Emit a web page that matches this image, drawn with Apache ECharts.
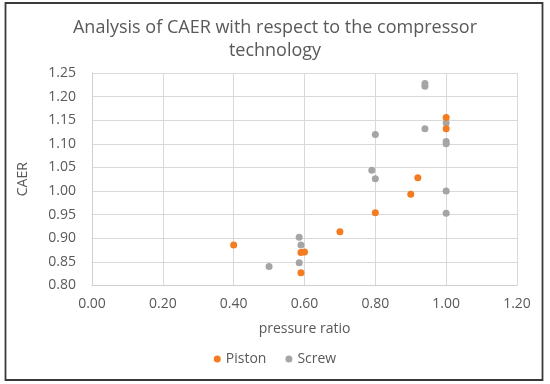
<!DOCTYPE html>
<html>
<head>
<meta charset="utf-8">
<script src="https://cdn.jsdelivr.net/npm/echarts@6/dist/echarts.min.js"></script>
<style>
html,body{margin:0;padding:0;background:#fff;}
#chart{width:550px;height:384px;}
</style>
</head>
<body>
<div id="chart"></div>
<script>
const titleText = "Analysis of CAER with respect to the compressor\ntechnology";
const xName = "pressure ratio";
const yName = "CAER";
const seriesNames = ["Piston", "Screw"];
const pistonData = [[0.40,0.886],[0.59,0.870],[0.60,0.871],[0.59,0.827],[0.70,0.914],[0.80,0.954],[0.90,0.993],[0.92,1.028],[1.00,1.156],[1.00,1.132]];
const screwData = [[0.50,0.840],[0.585,0.902],[0.59,0.886],[0.585,0.848],[0.79,1.044],[0.80,1.026],[0.80,1.120],[0.94,1.222],[0.94,1.228],[0.94,1.132],[1.00,1.144],[1.00,1.105],[1.00,1.100],[1.00,1.000],[1.00,0.953]];
const xTicks = {min:0, max:1.2, interval:0.2};
const yTicks = {min:0.8, max:1.25, interval:0.05};

const chart = echarts.init(document.getElementById('chart'));
const font = "'Open Sans', 'Noto Sans', sans-serif";
const txt = '#595959';
chart.setOption({
  animation:false,
  textStyle:{fontFamily:font},
  graphic:[{type:'rect', shape:{x:5.5,y:3,width:537,height:377}, style:{fill:'none', stroke:'#3a3a3a', lineWidth:1.8}, z:100}],
  title:{text:titleText, left:'center', top:11, textStyle:{fontFamily:font, fontSize:18, fontWeight:'normal', color:txt, lineHeight:23}},
  grid:{left:92, right:33, top:73, bottom:98.5},
  legend:{data:seriesNames, bottom:13, left:'center', itemWidth:7, itemHeight:7, itemGap:19, icon:'circle', textStyle:{fontSize:14, color:txt, fontFamily:font}},
  xAxis:{type:'value', min:xTicks.min, max:xTicks.max, interval:xTicks.interval,
    name:xName, nameLocation:'middle', nameGap:37, nameTextStyle:{fontSize:14, color:txt},
    axisLine:{show:true, onZero:false, lineStyle:{color:'#d0d0d0'}}, axisTick:{show:false},
    axisLabel:{fontSize:14, color:txt, margin:12, formatter:v=>v.toFixed(2)},
    splitLine:{show:true, lineStyle:{color:'#d9d9d9'}}},
  yAxis:{type:'value', min:yTicks.min, max:yTicks.max, interval:yTicks.interval,
    name:yName, nameLocation:'middle', nameGap:62, nameRotate:90, nameTextStyle:{fontSize:14, color:txt},
    axisLine:{show:true, lineStyle:{color:'#d0d0d0'}}, axisTick:{show:false},
    axisLabel:{fontSize:14, color:txt, margin:16, formatter:v=>v.toFixed(2)},
    splitLine:{show:true, lineStyle:{color:'#d9d9d9'}}},
  series:[
    {name:seriesNames[0], type:'scatter', data:pistonData, symbolSize:7, itemStyle:{color:'#F47B20', opacity:1}, z:3},
    {name:seriesNames[1], type:'scatter', data:screwData, symbolSize:7, itemStyle:{color:'#A5A5A5', opacity:1}, z:2}
  ]
});
</script>
</body>
</html>
